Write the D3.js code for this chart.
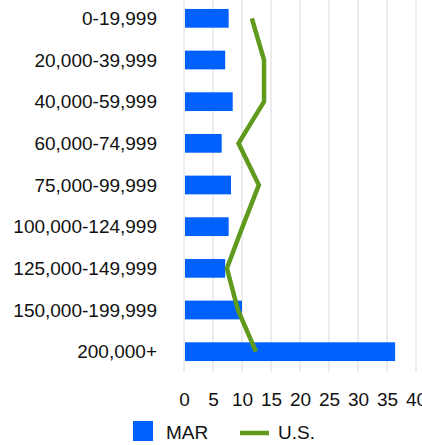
<!DOCTYPE html>
<html>
<head>
<meta charset="utf-8">
<script src="https://cdn.jsdelivr.net/npm/d3@7"></script>
<style>
  body { margin: 0; background: #fff; }
  svg { display: block; font-family: "Liberation Sans", Arial, sans-serif; }
</style>
</head>
<body>
<div id="chart"></div>
<script>
// Data
var categories = ["0-19,999", "20,000-39,999", "40,000-59,999", "60,000-74,999",
  "75,000-99,999", "100,000-124,999", "125,000-149,999", "150,000-199,999", "200,000+"];
var marValues = [7.7, 7.1, 8.4, 6.5, 8.1, 7.7, 7.1, 10.0, 36.4];
var usValues = [11.7, 13.8, 13.8, 9.4, 12.9, 10.1, 7.4, 9.3, 12.4];
var xTicks = [0, 5, 10, 15, 20, 25, 30, 35, 40];

//Set size
var width = 422, height = 445;
var fontSize = "19px";

var svg = d3.select("#chart")
  .append("svg")
    .attr("width", width)
    .attr("height", height);

//Scales
var x = d3.scaleLinear()
  .domain([0, 40])
  .range([184, 416]);

var y = d3.scaleBand()
  .domain(categories)
  .range([-2.5, 372.5])
  .paddingInner(0.55)
  .paddingOuter(0.275);

//Grid lines
svg.append("g")
  .selectAll("line")
  .data(xTicks)
  .enter()
  .append("line")
    .attr("x1", function(d) { return x(d); })
    .attr("x2", function(d) { return x(d); })
    .attr("y1", 0)
    .attr("y2", 372)
    .attr("stroke", "#e2e2e2")
    .attr("stroke-width", 1.3);

//X axis labels (the last one runs off the right edge, as in the original)
var xAxis = svg.append("g")
  .attr("transform", "translate(0,386)")
  .call(d3.axisBottom(x).tickValues(xTicks).tickSize(0).tickPadding(0));
xAxis.select(".domain").remove();
xAxis.selectAll("text")
  .attr("dy", "0")
  .attr("y", 20)
  .style("font-size", fontSize)
  .style("font-family", "'Liberation Sans', Arial, sans-serif")
  .attr("fill", "#111");

//Y axis labels
var yAxis = svg.append("g")
  .attr("transform", "translate(157,0)")
  .call(d3.axisLeft(y).tickSize(0).tickPadding(0));
yAxis.select(".domain").remove();
yAxis.selectAll("text")
  .attr("dy", "0.35em")
  .style("font-size", fontSize)
  .style("font-family", "'Liberation Sans', Arial, sans-serif")
  .attr("fill", "#111");

//Bars
svg.append("g")
  .selectAll("rect")
  .data(marValues)
  .enter()
  .append("rect")
    .attr("x", x(0) + 1)
    .attr("y", function(d, i) { return y(categories[i]); })
    .attr("width", function(d) { return x(d) - x(0) - 1; })
    .attr("height", y.bandwidth())
    .attr("fill", "#0061fe");

//U.S. line
var line = d3.line()
  .x(function(d) { return x(d); })
  .y(function(d, i) { return y(categories[i]) + y.bandwidth() / 2; });

svg.append("path")
  .datum(usValues)
  .attr("d", line)
  .attr("fill", "none")
  .attr("stroke", "#5f9a1c")
  .attr("stroke-width", 4.5)
  .attr("stroke-linejoin", "miter");

//Legend
var legend = svg.append("g");
legend.append("rect")
  .attr("x", 133)
  .attr("y", 421)
  .attr("width", 20)
  .attr("height", 20)
  .attr("fill", "#0061fe");
legend.append("text")
  .attr("x", 166)
  .attr("y", 439)
  .style("font-size", fontSize)
  .attr("fill", "#111")
  .text("MAR");
legend.append("line")
  .attr("x1", 240)
  .attr("x2", 269)
  .attr("y1", 433)
  .attr("y2", 433)
  .attr("stroke", "#5f9a1c")
  .attr("stroke-width", 4.5);
legend.append("text")
  .attr("x", 278)
  .attr("y", 439)
  .style("font-size", fontSize)
  .attr("fill", "#111")
  .text("U.S.");
</script>
</body>
</html>
